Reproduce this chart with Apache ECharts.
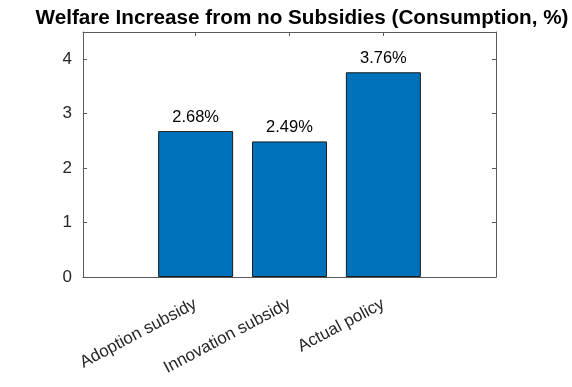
<!DOCTYPE html>
<html>
<head>
<meta charset="utf-8">
<script src="https://cdn.jsdelivr.net/npm/echarts@6/dist/echarts.min.js"></script>
<style>
html,body{margin:0;padding:0;background:#fff;}
#chart{width:572px;height:387px;}
</style>
</head>
<body>
<div id="chart"></div>
<script>
const titleText = 'Welfare Increase from no Subsidies (Consumption, %)';
const categories = ['Adoption subsidy', 'Innovation subsidy', 'Actual policy'];
const positions = [1, 2, 3];
const values = [2.68, 2.49, 3.76];
const yTicks = [0, 1, 2, 3, 4];

const FONT = '"Liberation Sans", Arial, Helvetica, sans-serif';
const AX = '#5a5a5a';

const chart = echarts.init(document.getElementById('chart'), null, {renderer: 'canvas'});
const barData = positions.map((p, i) => [p, values[i]]);

chart.setOption({
  animation: false,
  backgroundColor: '#fff',
  title: {
    text: titleText,
    left: 297, top: 3,
    textAlign: 'center',
    textStyle: {fontFamily: FONT, fontWeight: 'bold', fontSize: 20.7, color: '#000'}
  },
  grid: {left: 83, right: 76, top: 32, bottom: 110, containLabel: false},
  xAxis: [{
    type: 'value', min: -0.2, max: 4.2, position: 'bottom',
    axisLine: {show: true, onZero: false, lineStyle: {color: AX, width: 1}},
    axisTick: {show: true, inside: true, length: 4, customValues: positions, lineStyle: {color: AX}},
    axisLabel: {
      show: true, customValues: positions, rotate: 28, margin: 26,
      fontFamily: FONT, fontSize: 17, color: '#262626',
      formatter: v => categories[positions.indexOf(Math.round(v))] || ''
    },
    splitLine: {show: false}
  }, {
    type: 'value', min: -0.2, max: 4.2, position: 'top',
    axisLine: {show: true, onZero: false, lineStyle: {color: AX, width: 1}},
    axisTick: {show: true, inside: true, length: 4, customValues: positions, lineStyle: {color: AX}},
    axisLabel: {show: false},
    splitLine: {show: false}
  }],
  yAxis: [{
    type: 'value', min: 0, max: 4.5, position: 'left',
    axisLine: {show: true, onZero: false, lineStyle: {color: AX, width: 1}},
    axisTick: {show: true, inside: true, length: 4, customValues: yTicks, lineStyle: {color: AX}},
    axisLabel: {show: true, customValues: yTicks, margin: 11, fontFamily: FONT, fontSize: 17, color: '#262626'},
    splitLine: {show: false}
  }, {
    type: 'value', min: 0, max: 4.5, position: 'right',
    axisLine: {show: true, onZero: false, lineStyle: {color: AX, width: 1}},
    axisTick: {show: true, inside: true, length: 4, customValues: yTicks, lineStyle: {color: AX}},
    axisLabel: {show: false},
    splitLine: {show: false}
  }],
  series: [{
    type: 'bar',
    xAxisIndex: 0, yAxisIndex: 0,
    data: barData,
    barWidth: 75,
    itemStyle: {color: '#0072BD', borderColor: '#1a1a1a', borderWidth: 1},
    label: {
      show: true, position: 'top', distance: 5,
      fontFamily: FONT, fontSize: 16.5, color: '#000',
      formatter: p => p.value[1].toFixed(2) + '%'
    }
  }]
});
</script>
</body>
</html>
